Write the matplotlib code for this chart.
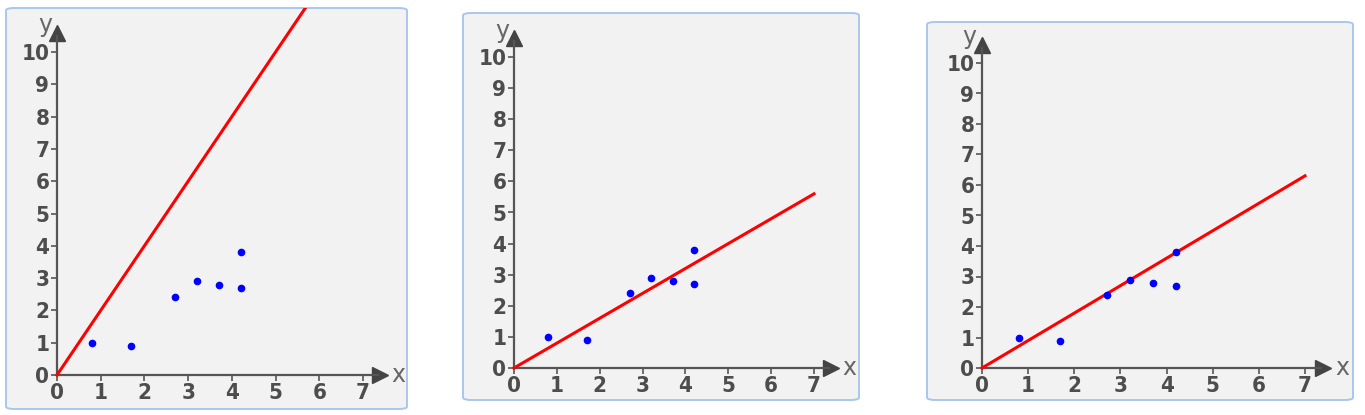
import matplotlib

matplotlib.use("Agg")
import matplotlib.pyplot as plt
from matplotlib.patches import FancyBboxPatch

# data
pts_x = [0.8, 1.7, 2.7, 3.2, 3.7, 4.2, 4.2]
pts_y = [1.0, 0.9, 2.4, 2.9, 2.8, 3.8, 2.7]
slopes = [2.0, 0.8, 0.9]          # red line y = m*x through origin
line_end_x = [8.0, 7.0, 7.0]
x_ticks = list(range(0, 8))
y_ticks = list(range(0, 11))

W, H = 1365, 415
# per panel: box (left, top, right, bottom) px, origin px, px of x=7, px of y=10
panels = [
    dict(box=(6, 8, 407, 409), org=(57, 375), x7=363, y10=52),
    dict(box=(463, 13, 859, 400), org=(514, 368), x7=814, y10=57),
    dict(box=(927, 22, 1353, 400), org=(982, 368), x7=1305, y10=63),
]

AX_COL = "#555555"
fig = plt.figure(figsize=(W / 100, H / 100), dpi=100)
fig.patch.set_facecolor("white")

for p, m, xe in zip(panels, slopes, line_end_x):
    l, t, r, b = p["box"]
    ox, oy = p["org"]
    ux = (p["x7"] - ox) / 7.0
    uy = (oy - p["y10"]) / 10.0

    # rounded panel frame
    fig.patches.append(FancyBboxPatch(
        (l / W, 1 - b / H), (r - l) / W, (b - t) / H,
        boxstyle="round,pad=0,rounding_size=0.006", transform=fig.transFigure,
        facecolor="#f2f2f2", edgecolor="#a9c7ee", lw=1.4, zorder=-5))

    ax = fig.add_axes([l / W, 1 - b / H, (r - l) / W, (b - t) / H])
    ax.set_zorder(1)
    ax.patch.set_alpha(0)
    ax.set_xlim((l - ox) / ux, (r - ox) / ux)
    ax.set_ylim((oy - b) / uy, (oy - t) / uy)

    for s in ("top", "right"):
        ax.spines[s].set_visible(False)
    for s in ("left", "bottom"):
        ax.spines[s].set_position(("data", 0))
        ax.spines[s].set_color(AX_COL)
        ax.spines[s].set_linewidth(1.6)
    ax.spines["bottom"].set_bounds(0, 7.35)
    ax.spines["left"].set_bounds(0, 10.5)

    ax.set_xticks(x_ticks)
    ax.set_yticks(y_ticks)
    ax.tick_params(colors=AX_COL, length=4, width=1.2, labelsize=16, pad=1.5)
    for lab in ax.get_xticklabels() + ax.get_yticklabels():
        lab.set_fontweight("bold")
        lab.set_color("#4d4d4d")
        lab.set_fontstretch("condensed")

    # arrow heads
    ax.plot([7.4], [0], marker=">", ms=11, color="#444444", clip_on=False)
    ax.plot([0], [10.6], marker="^", ms=11, color="#444444", clip_on=False)
    ax.text(7.65, 0, "x", fontsize=17, color="#666666", ha="left", va="center")
    ax.text(-0.27, 10.85, "y", fontsize=17, color="#666666", ha="center", va="center")

    ax.plot([0, xe], [0, m * xe], color="#ff0000", lw=2.2, zorder=3)
    ax.plot(pts_x, pts_y, "o", color="#0000ff", ms=4.5, zorder=4)

fig.savefig("out.png", dpi=100)
